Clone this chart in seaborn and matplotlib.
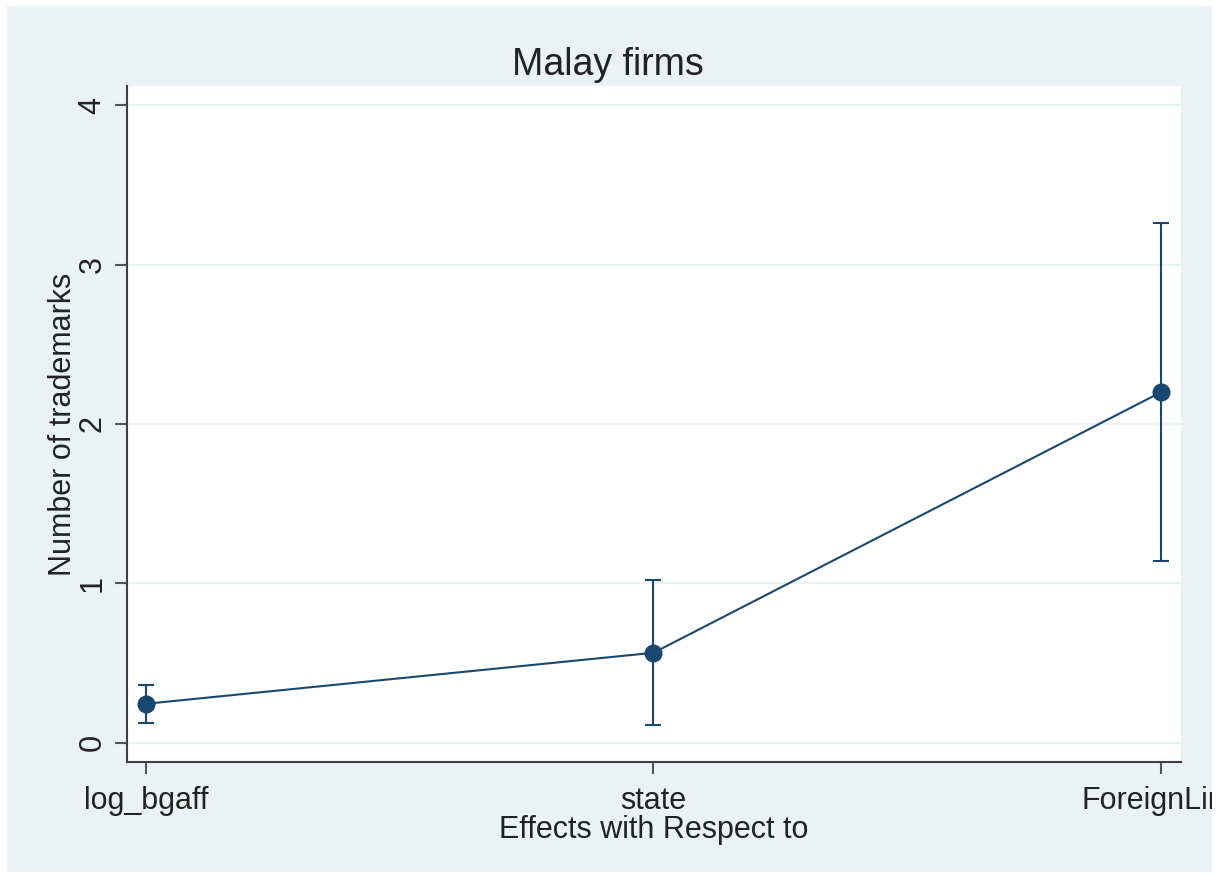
import matplotlib
matplotlib.use("Agg")
import matplotlib.pyplot as plt
from matplotlib.patches import Rectangle
import seaborn as sns
import pandas as pd

# Dados
categorias = ["log_bgaff", "state", "ForeignLink"]
efeito = [0.245, 0.565, 2.20]
ic_baixo = [0.127, 0.113, 1.14]
ic_alto = [0.363, 1.02, 3.26]

df = pd.DataFrame({"cat": categorias, "efeito": efeito})

# Estilo parecido com o Stata
sns.set_theme(style="white")
plt.rcParams["font.family"] = ["Liberation Sans", "DejaVu Sans"]

azul = "#1a476f"
fundo = "#eaf2f3"

W, H = 1223, 877
fig = plt.figure(figsize=(W / 100, H / 100), dpi=100, facecolor="white")
fig.patches.append(Rectangle((7 / W, 1 - 872 / H), (1212 - 7) / W, (872 - 6) / H,
                             transform=fig.transFigure, facecolor=fundo,
                             edgecolor="none", zorder=-10))

ax = fig.add_axes([127 / W, 1 - 762 / H, (1181 - 127) / W, (762 - 86) / H])
ax.set_facecolor("white")

# Linha e pontos
sns.lineplot(data=df, x="cat", y="efeito", ax=ax, color=azul, linewidth=1.5,
             marker="o", markersize=13, markeredgewidth=0, sort=False, zorder=3)

# Intervalos de confiança
yerr = [[e - lo for e, lo in zip(efeito, ic_baixo)],
        [hi - e for e, hi in zip(efeito, ic_alto)]]
ax.errorbar(categorias, efeito, yerr=yerr, fmt="none", ecolor=azul,
            elinewidth=1.5, capsize=5.8, capthick=1.5, zorder=2)

ax.set_xlim(-0.037, 2.039)
ax.set_ylim(-0.12, 4.12)
ax.set_yticks([0, 1, 2, 3, 4])
ax.grid(axis="y", color=fundo, linewidth=1.6)
ax.grid(axis="x", visible=False)
ax.set_axisbelow(True)

for s in ["top", "right"]:
    ax.spines[s].set_visible(False)
for s in ["left", "bottom"]:
    ax.spines[s].set_color("#404040")
    ax.spines[s].set_linewidth(1.5)

ax.tick_params(axis="both", direction="out", length=8.5, width=1.5,
               color="#555555", labelsize=22, labelcolor="#222222",
               bottom=True, left=True)
ax.tick_params(axis="x", pad=9)
ax.tick_params(axis="y", labelrotation=90, pad=5.5)
for lab in ax.get_yticklabels():
    lab.set_va("center")

ax.set_xlabel("Effects with Respect to", fontsize=22, color="#222222", labelpad=-1)
ax.set_ylabel("Number of trademarks", fontsize=22, color="#222222", labelpad=0)

fig.text(608 / W, 1 - 65 / H, "Malay firms", fontsize=27, color="#222222",
         ha="center", va="center")

# Corte do rótulo na borda direita
fig.patches.append(Rectangle((1212 / W, 0), 1 - 1212 / W, 1,
                             transform=fig.transFigure, facecolor="white",
                             edgecolor="none", zorder=20))

fig.savefig("out.png", dpi=100, facecolor="white")
